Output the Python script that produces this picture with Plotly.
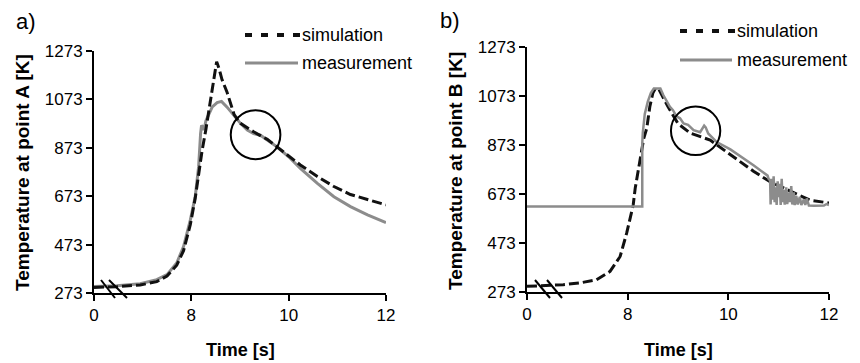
import plotly.graph_objects as go

# ---- data (time axis is broken between 0 and 8 s: display position 6 is labelled "0") ----
x_tick_vals = [6, 8, 10, 12]
x_tick_text = ["0", "8", "10", "12"]
y_tick_vals = [273, 473, 673, 873, 1073, 1273]

# panel a) point A
a_sim_t = [6.0, 6.47, 6.95, 7.29, 7.50, 7.70, 7.84, 7.98, 8.08, 8.15, 8.22, 8.30, 8.38, 8.45, 8.52,
           8.57, 8.63, 8.73, 8.88, 9.01, 9.28, 9.56, 9.76, 10.0, 10.24, 10.59, 10.93, 11.27, 11.62, 12.0]
a_sim_T = [296, 299, 306, 320, 343, 388, 448, 556, 665, 765, 860, 950, 1058, 1150, 1229,
           1200, 1155, 1105, 1010, 974, 939, 908, 877, 836, 802, 754, 713, 680, 658, 637]

a_meas_t = [6.0, 6.47, 6.95, 7.29, 7.50, 7.70, 7.84, 7.98, 8.08, 8.15, 8.19, 8.21, 8.24, 8.26, 8.30,
            8.43, 8.53, 8.62, 8.73, 8.87, 9.01, 9.15, 9.28, 9.42, 9.56, 9.76, 10.0, 10.24, 10.59,
            10.93, 11.27, 11.62, 12.0]
a_meas_T = [300, 303, 311, 328, 349, 397, 465, 575, 671, 795, 932, 965, 959, 946, 985,
            1042, 1060, 1065, 1042, 1008, 974, 946, 932, 925, 905, 877, 836, 788, 726,
            671, 630, 596, 564]

# panel b) point B
b_sim_t = [6.0, 6.4, 6.72, 7.05, 7.38, 7.65, 7.85, 7.98, 8.05, 8.11, 8.15, 8.25, 8.32, 8.38, 8.44,
           8.50, 8.55, 8.62, 8.71, 8.80, 9.0, 9.24, 9.64, 10.04, 10.23, 10.5, 10.83, 11.25, 11.62,
           11.95, 12.0]
b_sim_T = [296, 299, 303, 310, 323, 357, 418, 513, 580, 628, 697, 825, 900, 942, 1029,
           1085, 1104, 1100, 1065, 1030, 960, 922, 893, 835, 805, 766, 723, 682, 648,
           638, 636]

b_meas_t = [6.0, 8.29, 8.29, 8.30, 8.34, 8.40, 8.46, 8.52, 8.65, 8.71, 8.84, 8.90, 8.97, 9.04,
            9.11, 9.20, 9.31, 9.44, 9.52, 9.55, 9.60, 9.77, 10.04, 10.23, 10.5, 10.78,
            10.80, 10.83, 10.84, 10.86, 10.88, 10.90, 10.92, 10.94, 10.96, 10.98, 11.00, 11.02,
            11.04, 11.06, 11.08, 11.10, 11.12, 11.15, 11.17, 11.20, 11.22, 11.25, 11.27, 11.30,
            11.32, 11.35, 11.38, 11.42, 11.45, 11.50, 11.53, 11.56, 11.60, 11.70, 11.80, 11.90,
            11.95, 12.0]
b_meas_T = [622, 622, 880, 922, 1000, 1050, 1085, 1104, 1104, 1076, 1029, 1015, 990, 982,
            961, 955, 934, 925, 952, 945, 920, 885, 855, 829, 790, 748,
            735, 728, 630, 735, 650, 745, 640, 700, 628, 725, 660, 715,
            628, 735, 640, 690, 630, 700, 632, 680, 640, 705, 630, 680,
            628, 665, 630, 662, 628, 650, 628, 655, 626, 625, 625, 626,
            632, 628]

# circled regions (centre time, centre temperature, half-width, half-height)
a_circle = (9.32, 927, 0.51, 101)
b_circle = (9.35, 931, 0.49, 99)

SIM_COLOR = "#111111"
MEAS_COLOR = "#8c8c8c"
FONT = "Liberation Sans, Arial, sans-serif"

# the page body has an 8px margin, so the figure is 8px smaller than the window
OFF = 8
W, H = 860 - OFF, 363 - OFF


def px(x):
    return (x - OFF) / W


def py(y):
    return (H - (y - OFF)) / H


fig = go.Figure()

fig.add_trace(go.Scatter(x=a_meas_t, y=a_meas_T, mode="lines", xaxis="x", yaxis="y",
                         line=dict(color=MEAS_COLOR, width=3), name="measurement", showlegend=False))
fig.add_trace(go.Scatter(x=a_sim_t, y=a_sim_T, mode="lines", xaxis="x", yaxis="y",
                         line=dict(color=SIM_COLOR, width=3, dash="10px,4px"), name="simulation",
                         showlegend=False))
fig.add_trace(go.Scatter(x=b_sim_t, y=b_sim_T, mode="lines", xaxis="x2", yaxis="y2",
                         line=dict(color=SIM_COLOR, width=3, dash="10px,4px"), name="simulation",
                         showlegend=False))
fig.add_trace(go.Scatter(x=b_meas_t, y=b_meas_T, mode="lines", xaxis="x2", yaxis="y2",
                         line=dict(color=MEAS_COLOR, width=2.5), name="measurement", showlegend=False))

axis_common = dict(
    showgrid=False, zeroline=False, showline=True, linecolor="black", linewidth=2,
    ticks="outside", ticklen=6, tickwidth=2, tickcolor="black",
    tickfont=dict(family=FONT, size=17, color="black"), automargin=False,
)

fig.update_layout(
    width=W, height=H, margin=dict(l=0, r=0, t=0, b=0),
    paper_bgcolor="white", plot_bgcolor="white", showlegend=False,
    xaxis=dict(domain=[px(94), px(386)], range=[6, 12], tickvals=x_tick_vals, ticktext=x_tick_text,
               anchor="y", **axis_common),
    yaxis=dict(domain=[py(293), py(51)], range=[273, 1273], tickvals=y_tick_vals,
               anchor="x", **axis_common),
    xaxis2=dict(domain=[px(527), px(829)], range=[6, 12], tickvals=x_tick_vals, ticktext=x_tick_text,
                anchor="y2", **axis_common),
    yaxis2=dict(domain=[py(292), py(47)], range=[273, 1273], tickvals=y_tick_vals,
                anchor="x2", **axis_common),
)

shapes = []
for (cx, cy, rx, ry), xr, yr in [(a_circle, "x", "y"), (b_circle, "x2", "y2")]:
    shapes.append(dict(type="circle", xref=xr, yref=yr, x0=cx - rx, x1=cx + rx, y0=cy - ry, y1=cy + ry,
                       line=dict(color="black", width=2)))

# axis-break marks
for (x0, y0, x1, y1) in [(101, 280, 115, 298), (109, 280, 127, 298),
                         (535, 280, 550, 298), (547, 280, 562, 298)]:
    shapes.append(dict(type="line", xref="paper", yref="paper", x0=px(x0), y0=py(y0), x1=px(x1), y1=py(y1),
                       line=dict(color="black", width=2)))

# legend samples
for (lx0, lx1, ly, color, dash, w) in [(245, 300, 35, SIM_COLOR, "7px,9px", 4),
                                       (245, 298, 63, MEAS_COLOR, "solid", 3),
                                       (680, 735, 31, SIM_COLOR, "7px,9px", 4),
                                       (680, 732, 60, MEAS_COLOR, "solid", 3)]:
    shapes.append(dict(type="line", xref="paper", yref="paper", x0=px(lx0), x1=px(lx1), y0=py(ly), y1=py(ly),
                       line=dict(color=color, width=w, dash=dash)))
fig.update_layout(shapes=shapes)

annotations = []
for (tx, ty, txt) in [(300, 35, "simulation"), (300, 63, "measurement"),
                      (735, 31, "simulation"), (735, 60, "measurement")]:
    annotations.append(dict(x=px(tx), y=py(ty), xref="paper", yref="paper", text=txt, showarrow=False,
                            xanchor="left", yanchor="middle", font=dict(family=FONT, size=18, color="black")))
for (tx, ty, txt) in [(26, 22, "a)"), (450, 21, "b)")]:
    annotations.append(dict(x=px(tx), y=py(ty), xref="paper", yref="paper", text=txt, showarrow=False,
                            xanchor="center", yanchor="middle", font=dict(family=FONT, size=22, color="black")))
for (tx, ty, txt) in [(22, 173, "<b>Temperature at point A [K]</b>"),
                      (455, 171, "<b>Temperature at point B [K]</b>")]:
    annotations.append(dict(x=px(tx), y=py(ty), xref="paper", yref="paper", text=txt, showarrow=False,
                            textangle=-90, xanchor="center", yanchor="middle",
                            font=dict(family=FONT, size=19, color="black")))
for (tx, ty) in [(240, 350), (678, 350)]:
    annotations.append(dict(x=px(tx), y=py(ty), xref="paper", yref="paper", text="<b>Time [s]</b>",
                            showarrow=False, xanchor="center", yanchor="middle",
                            font=dict(family=FONT, size=18, color="black")))
fig.update_layout(annotations=annotations)

fig.write_html("out.html")
